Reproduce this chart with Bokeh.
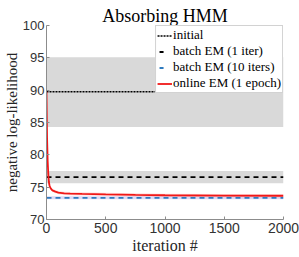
from bokeh.plotting import figure
from bokeh.models import Range1d, FixedTicker, Legend, LegendItem
from bokeh.embed import file_html
from bokeh.resources import INLINE

# ---- data ----
iters = [0, 2, 5, 10, 15, 20, 25, 30, 40, 50, 75, 100, 150, 200, 300, 500, 750, 1000, 1500, 2000]
online_em = [89.75, 86.5, 82.5, 79.0, 77.0, 75.8, 75.3, 75.0, 74.7, 74.5, 74.3, 74.15,
             74.05, 74.0, 73.95, 73.87, 73.8, 73.75, 73.7, 73.67]
online_spread = 0.25
x_limits = [0, 2000]
initial_mean = 89.75
initial_band = [84.3, 95.1]
batch1_mean = 76.55
batch1_band = [75.6, 77.5]
batch10_mean = 73.35
batch10_band = [73.15, 73.6]
x_ticks = [0, 500, 1000, 1500, 2000]
y_ticks = [70, 75, 80, 85, 90, 95, 100]
legend_labels = ["initial", "batch EM (1 iter)", "batch EM (10 iters)", "online EM (1 epoch)"]

SERIF = "Liberation Serif"
SANS = "Liberation Sans"

p = figure(width=299, height=257, output_backend="svg", toolbar_location=None,
           x_range=Range1d(*x_limits), y_range=Range1d(70, 100),
           min_border_left=46, min_border_right=16, min_border_top=25, min_border_bottom=38)
p.title.text = "Absorbing HMM"
p.title.align = "center"
p.title.text_font = SERIF
p.title.text_font_size = "18px"
p.title.text_font_style = "normal"
p.title.text_color = "#000000"
p.title.standoff = 0
p.title.offset = 0

p.outline_line_color = None
p.xgrid.visible = False
p.ygrid.visible = False
p.background_fill_color = "white"
p.border_fill_color = "white"

for ax in (p.xaxis[0], p.yaxis[0]):
    ax.axis_line_color = "#8c8c8c"
    ax.major_tick_line_color = "#8c8c8c"
    ax.major_tick_in = 3
    ax.major_tick_out = 0
    ax.minor_tick_line_color = None
    ax.major_label_text_font = SANS
    ax.major_label_text_color = "#333333"
    ax.axis_label_text_font = SERIF
    ax.axis_label_text_font_style = "normal"
    ax.axis_label_text_color = "#262626"
    ax.axis_label_standoff = 0

p.xaxis.major_label_text_font_size = "14px"
p.xaxis.major_label_standoff = 3
p.xaxis.axis_label_text_font_size = "16px"
p.xaxis.axis_label_standoff = 1
p.yaxis.major_label_text_font_size = "13px"
p.yaxis.major_label_standoff = 2
p.yaxis.axis_label_text_font_size = "15px"

p.xaxis.ticker = FixedTicker(ticks=x_ticks)
p.yaxis.ticker = FixedTicker(ticks=y_ticks)
p.xaxis.axis_label = "iteration #"
p.yaxis.axis_label = "negative log-likelihood"

# bands
p.varea(x=x_limits, y1=[initial_band[0]] * 2, y2=[initial_band[1]] * 2, fill_color="#d9d9d9")
p.varea(x=x_limits, y1=[batch1_band[0]] * 2, y2=[batch1_band[1]] * 2, fill_color="#d9d9d9")
p.varea(x=x_limits, y1=[batch10_band[0]] * 2, y2=[batch10_band[1]] * 2, fill_color="#dcd8f4")
p.varea(x=iters, y1=[v - online_spread for v in online_em], y2=[v + online_spread for v in online_em],
        fill_color="#ff4040", fill_alpha=0.18)

# lines
p.line(x=x_limits, y=[initial_mean] * 2, line_color="black", line_width=1.5, line_dash="2 1")
p.line(x=x_limits, y=[batch1_mean] * 2, line_color="black", line_width=1.8, line_dash="5 4")
p.line(x=x_limits, y=[batch10_mean] * 2, line_color="#2f7bbf", line_width=1.8, line_dash="5 4")
p.line(x=iters, y=online_em, line_color="#f01818", line_width=1.8)

# legend-only renderers
nan = [float("nan")]
r0 = p.line(x=nan, y=nan, line_color="black", line_width=1.5, line_dash="2 1")
r1 = p.line(x=nan, y=nan, line_color="black", line_width=1.8, line_dash="0 2 4 100")
r2 = p.line(x=nan, y=nan, line_color="#2f7bbf", line_width=1.8, line_dash="0 2 4 100")
r3 = p.line(x=nan, y=nan, line_color="#f01818", line_width=1.8)

legend = Legend(items=[LegendItem(label=l, renderers=[r]) for l, r in zip(legend_labels, [r0, r1, r2, r3])],
                location="top_right")
legend.margin = 0
legend.padding = 1
legend.spacing = 0
legend.label_text_font = SERIF
legend.label_text_font_size = "13px"
legend.label_text_color = "#000000"
legend.label_height = 13
legend.glyph_height = 13
legend.glyph_width = 15
legend.label_standoff = 1
legend.border_line_color = "#a6a6a6"
legend.border_line_width = 1
legend.background_fill_color = "white"
legend.background_fill_alpha = 1
p.add_layout(legend)

open("out.html", "w").write(file_html(p, INLINE))
